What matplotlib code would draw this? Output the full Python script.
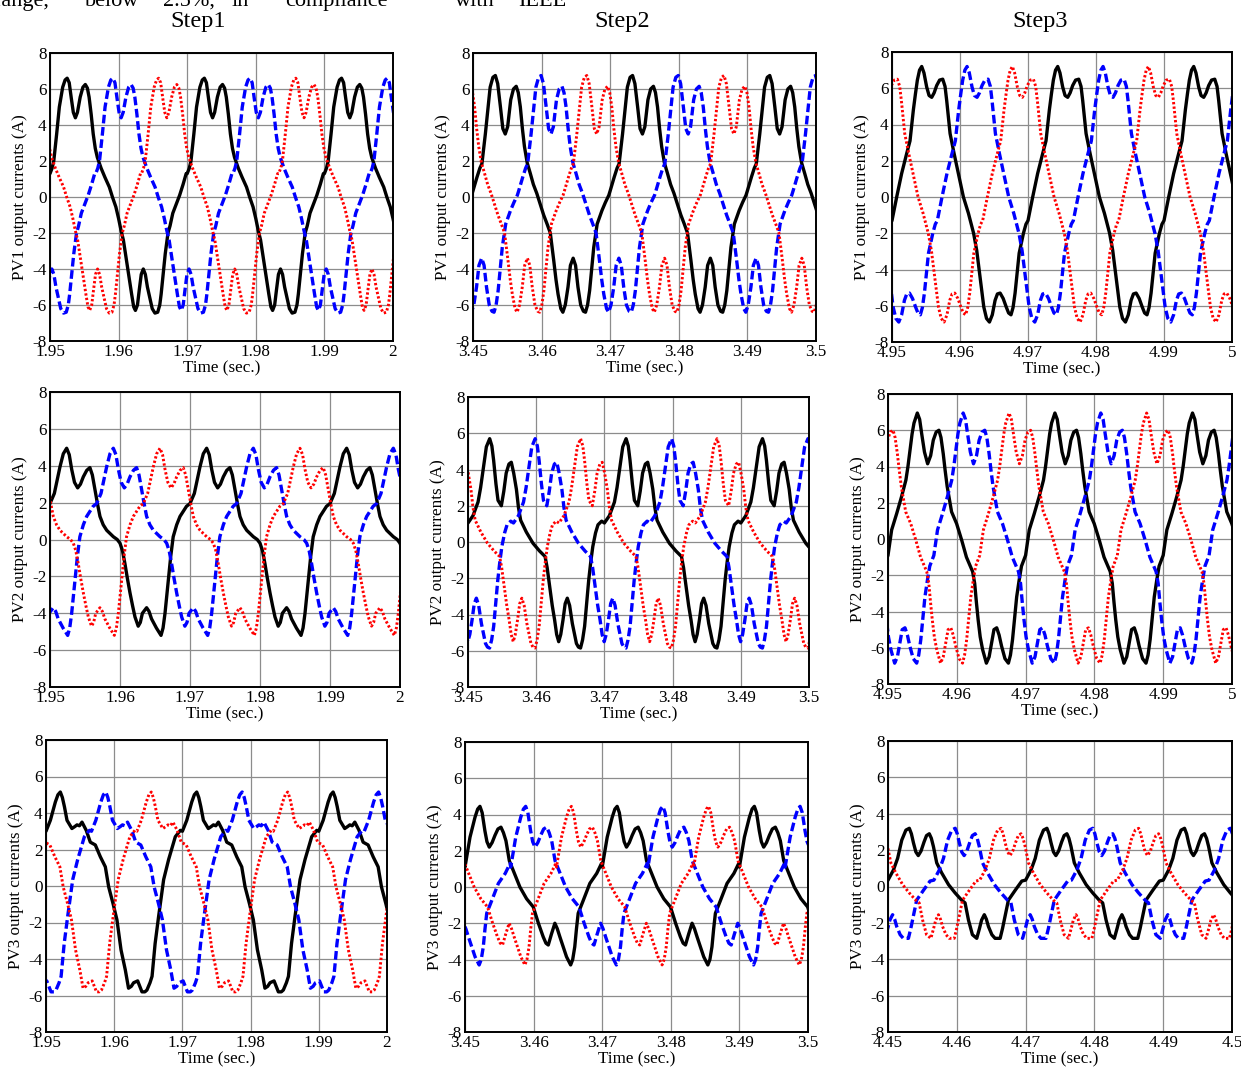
import matplotlib
matplotlib.use("Agg")
import matplotlib.pyplot as plt

plt.rcParams["font.family"] = ["Liberation Serif", "DejaVu Serif"]

# One period (20 ms) of the black phase current.
# Times are ms from the first time tick; the blue and red phases are the same
# shape delayed by one third and two thirds of a period.
PERIOD_MS = 20.0

pv1_s1_t = [0.0, 0.3, 0.55, 0.97, 1.36, 1.85, 2.2, 2.5, 2.8, 3.1, 3.4, 3.7, 4.0, 4.4, 4.8, 5.15, 5.45,
            5.7, 6.0, 6.3, 6.6, 6.9, 7.45, 8.0, 8.65, 9.1, 9.6, 10.0, 10.35, 10.7, 11.3, 11.9, 12.2,
            12.45, 12.75, 13.0, 13.3, 13.6, 13.9, 14.2, 14.9, 15.3, 15.7, 16.0, 16.2, 16.8, 17.2,
            17.5, 17.9, 18.4, 18.9, 19.4, 19.85]
pv1_s1_v = [1.3, 1.6, 2.0, 3.5, 5.0, 6.1, 6.5, 6.6, 6.35, 5.5, 4.7, 4.4, 4.7, 5.55, 6.1, 6.25, 6.05,
            5.55, 4.6, 3.5, 2.7, 2.2, 1.6, 1.1, 0.55, 0.0, -0.55, -1.2, -1.85, -2.4, -3.9, -5.4, -6.1,
            -6.3, -6.0, -5.2, -4.3, -4.0, -4.3, -5.0, -6.2, -6.45, -6.4, -6.0, -5.4, -3.15, -2.0,
            -1.6, -0.9, -0.4, 0.1, 0.7, 1.3]

pv1_s2_t = [0.0, 0.58, 1.0, 1.3, 1.8, 2.2, 2.5, 2.9, 3.26, 3.6, 4.0, 4.35, 4.7, 5.05, 5.5, 5.9, 6.3,
            6.6, 6.9, 7.2, 7.5, 7.9, 8.36, 8.8, 9.3, 9.8, 10.3, 10.8, 11.27, 11.76, 12.1, 12.4, 12.8,
            13.1, 13.45, 13.85, 14.2, 14.6, 14.95, 15.3, 15.7, 16.1, 16.4, 16.7, 17.0, 17.3, 17.6,
            18.1, 18.8, 19.3, 19.8]
pv1_s2_v = [0.35, 1.1, 1.6, 1.85, 3.5, 5.0, 6.1, 6.65, 6.75, 6.3, 5.0, 3.8, 3.5, 3.9, 5.4, 6.0, 6.15,
            5.8, 5.0, 3.8, 2.8, 1.9, 1.3, 0.7, 0.2, -0.4, -1.0, -1.5, -2.0, -3.5, -4.6, -5.4, -6.2,
            -6.4, -6.0, -5.0, -3.8, -3.4, -3.8, -5.0, -6.0, -6.35, -6.4, -6.0, -5.2, -4.0, -2.8,
            -1.5, -0.75, -0.3, 0.1]

pv1_s3_t = [0.0, 0.69, 1.42, 2.16, 2.65, 3.14, 3.45, 3.73, 4.05, 4.37, 4.7, 5.1, 5.45, 5.84, 6.2, 6.57,
            7.0, 7.46, 7.8, 8.05, 8.3, 8.54, 9.13, 9.76, 10.5, 11.24, 12.0, 12.46, 12.95, 13.5, 13.9,
            14.33, 14.75, 15.16, 15.5, 15.9, 16.35, 16.8, 17.15, 17.5, 17.8, 18.1, 18.4, 18.7, 19.33,
            19.7]
pv1_s3_v = [-1.3, 0.0, 1.3, 2.4, 3.1, 4.8, 5.7, 6.45, 7.0, 7.2, 6.85, 6.07, 5.6, 5.5, 5.75, 6.15,
            6.45, 6.5, 6.1, 5.3, 4.4, 3.5, 2.4, 1.3, 0.0, -0.9, -2.0, -2.95, -4.4, -6.07, -6.7,
            -6.9, -6.5, -5.7, -5.35, -5.3, -5.6, -6.07, -6.4, -6.5, -6.1, -5.3, -4.2, -3.1, -2.0,
            -1.5]

pv2_s1_t = [0.0, 0.62, 1.43, 1.9, 2.38, 2.75, 3.1, 3.5, 3.95, 4.35, 4.76, 5.25, 5.7, 6.05, 6.43, 6.8,
            7.14, 7.6, 8.1, 9.05, 9.6, 10.0, 10.35, 10.7, 11.05, 11.43, 11.8, 12.14, 12.6, 12.9, 13.2,
            13.8, 14.15, 14.5, 15.2, 15.86, 16.15, 16.43, 16.9, 17.25, 17.6, 18.1, 18.57, 19.5]
pv2_s1_v = [1.95, 2.5, 3.95, 4.65, 4.95, 4.6, 3.8, 3.1, 2.8, 3.0, 3.4, 3.75, 3.9, 3.5, 2.7, 1.9,
            1.25, 0.8, 0.5, 0.15, 0.0, -0.2, -0.6, -1.3, -2.1, -2.9, -3.6, -4.2, -4.7, -4.5, -4.0,
            -3.7, -3.9, -4.3, -4.8, -5.2, -4.8, -4.0, -2.2, -0.9, 0.15, 0.8, 1.25, 1.8]

pv2_s2_t = [0.0, 0.73, 1.47, 1.85, 2.2, 2.69, 3.18, 3.5, 3.76, 4.1, 4.4, 4.89, 5.25, 5.6, 6.0, 6.35,
            6.7, 7.1, 7.4, 7.72, 8.1, 8.55, 9.53, 10.5, 11.3, 11.6, 11.97, 12.35, 12.7, 13.0, 13.3,
            13.6, 13.93, 14.25, 14.56, 14.9, 15.3, 15.9, 16.2, 16.5, 16.8, 17.1, 17.4, 17.7, 18.0,
            18.3, 18.7, 19.06, 19.6]
pv2_s2_v = [1.05, 1.45, 2.2, 3.0, 3.95, 5.25, 5.7, 5.3, 4.5, 3.2, 2.3, 2.0, 2.8, 3.8, 4.3, 4.4,
            3.8, 2.9, 1.9, 1.2, 0.9, 0.55, -0.07, -0.5, -0.8, -1.4, -2.45, -3.5, -4.3, -5.1, -5.5,
            -5.1, -4.3, -3.4, -3.1, -3.5, -4.5, -5.6, -5.8, -5.85, -5.4, -4.65, -3.4, -2.1, -1.1,
            -0.25, 0.5, 0.95, 1.15]

pv2_s3_t = [0.0, 0.53, 1.26, 1.98, 2.6, 2.9, 3.2, 3.5, 3.78, 4.26, 4.6, 4.9, 5.3, 5.76, 6.2, 6.58,
            7.0, 7.4, 7.7, 8.03, 8.3, 8.6, 9.24, 9.97, 10.7, 11.4, 12.3, 12.6, 12.85, 13.1, 13.4,
            13.75, 14.3, 14.7, 15.05, 15.4, 15.8, 16.15, 16.5, 17.0, 17.5, 17.8, 18.1, 18.4, 18.7,
            19.05, 19.4]
pv2_s3_v = [-0.9, 0.5, 1.4, 2.35, 3.25, 4.0, 4.9, 5.8, 6.4, 6.95, 6.6, 5.8, 4.8, 4.15, 4.6, 5.45,
            5.9, 6.0, 5.6, 4.7, 3.8, 2.9, 1.5, 0.85, -0.05, -1.0, -1.8, -2.45, -3.5, -4.45, -5.4,
            -6.1, -6.85, -6.5, -5.75, -5.0, -4.9, -5.3, -5.9, -6.6, -6.85, -6.4, -5.55, -4.4, -3.2,
            -2.3, -1.5]

pv3_s1_t = [0.0, 0.64, 1.37, 1.75, 2.1, 2.4, 2.7, 3.08, 3.8, 4.2, 4.55, 4.9, 5.28, 5.9, 6.5, 7.23,
            7.97, 8.7, 9.19, 9.82, 10.4, 11.0, 11.63, 12.1, 12.5, 12.85, 13.44, 14.07, 14.5, 14.8,
            15.25, 15.55, 16.0, 16.5, 17.25, 17.98, 18.96, 19.7]
pv3_s1_v = [3.0, 3.6, 4.6, 5.0, 5.15, 4.85, 4.35, 3.6, 3.15, 3.25, 3.35, 3.3, 3.5, 3.05, 2.4, 2.25,
            1.6, 1.05, -0.05, -0.95, -1.85, -3.5, -4.6, -5.6, -5.5, -5.3, -5.2, -5.8, -5.8, -5.7,
            -5.3, -4.95, -3.15, -1.7, 0.35, 1.45, 2.7, 3.05]

pv3_s2_t = [0.0, 0.73, 1.46, 1.85, 2.18, 2.5, 2.9, 3.2, 3.54, 3.95, 4.37, 4.8, 5.24, 5.6, 5.97, 6.46,
            7.04, 8.0, 8.98, 9.95, 10.7, 11.4, 11.8, 12.14, 12.6, 13.1, 13.45, 13.83, 14.4, 14.8,
            15.4, 15.7, 16.0, 16.25, 16.5, 17.23, 18.2, 19.2, 19.9]
pv3_s2_v = [1.1, 2.75, 3.85, 4.3, 4.45, 4.1, 3.1, 2.5, 2.2, 2.45, 2.85, 3.2, 3.3, 3.0, 2.55, 1.45,
            0.9, 0.0, -0.65, -1.1, -2.0, -2.75, -3.1, -3.2, -2.6, -2.0, -2.3, -2.75, -3.4, -3.85,
            -4.3, -4.0, -3.3, -2.3, -1.45, -0.75, 0.2, 0.75, 1.3]

pv3_s3_t = [0.0, 0.78, 1.4, 2.0, 2.6, 3.1, 3.4, 3.7, 4.05, 4.4, 4.8, 5.24, 5.6, 6.0, 6.3, 6.6, 7.08,
            7.8, 8.8, 9.75, 10.7, 11.2, 11.7, 12.27, 12.9, 13.3, 13.6, 14.0, 14.3, 14.6, 15.1, 15.56,
            16.3, 16.65, 17.0, 17.5, 18.5, 19.45]
pv3_s3_v = [0.35, 0.9, 1.55, 2.55, 3.1, 3.2, 2.9, 2.4, 1.9, 1.7, 1.95, 2.45, 2.8, 2.9, 2.65, 2.2, 1.3,
            0.75, 0.1, -0.35, -0.75, -0.9, -1.85, -2.65, -2.85, -2.3, -1.85, -1.55, -1.8, -2.2, -2.65,
            -2.85, -2.85, -2.3, -1.65, -0.75, -0.2, 0.3]

# window start of each column and row (seconds)
t_start = [[1.95, 3.45, 4.95],
           [1.95, 3.45, 4.95],
           [1.95, 3.45, 4.45]]
xtick_labels = {1.95: ["1.95", "1.96", "1.97", "1.98", "1.99", "2"],
                3.45: ["3.45", "3.46", "3.47", "3.48", "3.49", "3.5"],
                4.95: ["4.95", "4.96", "4.97", "4.98", "4.99", "5"],
                4.45: ["4.45", "4.46", "4.47", "4.48", "4.49", "4.5"]}
ytick_values = [-8, -6, -4, -2, 0, 2, 4, 6, 8]
step_titles = ["Step1", "Step2", "Step3"]
row_labels = ["PV1 output currents (A)", "PV2 output currents (A)", "PV3 output currents (A)"]

waves = [[(pv1_s1_t, pv1_s1_v), (pv1_s2_t, pv1_s2_v), (pv1_s3_t, pv1_s3_v)],
         [(pv2_s1_t, pv2_s1_v), (pv2_s2_t, pv2_s2_v), (pv2_s3_t, pv2_s3_v)],
         [(pv3_s1_t, pv3_s1_v), (pv3_s2_t, pv3_s2_v), (pv3_s3_t, pv3_s3_v)]]

# axes boxes in pixels: left, right, top, bottom
boxes = [[(50, 393, 53, 341), (473, 816, 53, 341), (892, 1232, 52, 342)],
         [(50, 400, 392, 687), (468, 809, 397, 687), (888, 1232, 394, 684)],
         [(46, 387, 740, 1032), (465, 808, 742, 1032), (888, 1232, 741, 1032)]]

W, H = 1241, 1069
fig = plt.figure(figsize=(W / 100, H / 100), dpi=100)

phases = [(0.0, "black", "-", 2.4),
          (PERIOD_MS / 3, "#0000ff", (0, (2.6, 1.1)), 2.4),
          (2 * PERIOD_MS / 3, "#ff0000", (0, (0.8, 0.75)), 2.1)]

for r in range(3):
    for c in range(3):
        l, rgt, t, b = boxes[r][c]
        ax = fig.add_axes([l / W, 1 - b / H, (rgt - l) / W, (b - t) / H])
        t0 = t_start[r][c]
        bt, bv = waves[r][c]
        for shift, col, ls, lw in phases:
            xs, ys = [], []
            for k in range(-1, 4):
                for tk, vk in zip(bt, bv):
                    xs.append(t0 + (tk + shift + k * PERIOD_MS) / 1000.0)
                    ys.append(vk)
            ax.plot(xs, ys, color=col, linestyle=ls, linewidth=lw, dash_capstyle="butt")
        ax.set_xlim(t0, t0 + 0.05)
        ax.set_ylim(-8, 8)
        ax.set_xticks([t0 + 0.01 * i for i in range(6)])
        ax.set_xticklabels(xtick_labels[t0])
        ax.set_yticks(ytick_values)
        ax.set_yticklabels([str(v) for v in ytick_values])
        ax.grid(True, color="#8c8c8c", linewidth=0.9)
        ax.tick_params(direction="in", length=0, labelsize=12.3, pad=2.5)
        for sp in ax.spines.values():
            sp.set_linewidth(1.4)
        ax.set_xlabel("Time (sec.)", fontsize=12.3, labelpad=0)
        ax.set_ylabel(row_labels[r], fontsize=12.3, labelpad=3)

# column titles
for x, txt in zip([198, 622, 1040], step_titles):
    fig.text(x / W, 1 - 22 / H, txt, ha="center", va="center", fontsize=17.5)

# caption line from the surrounding page, cut by the top edge
for x, word in zip([-5, 85, 163, 232, 285, 455, 518],
                   ["range,", "below", "2.5%,", "in", "compliance", "with", "IEEE"]):
    fig.text(x / W, 1 - 6 / H, word, ha="left", va="baseline", fontsize=16)

fig.savefig("out.png", dpi=100)
